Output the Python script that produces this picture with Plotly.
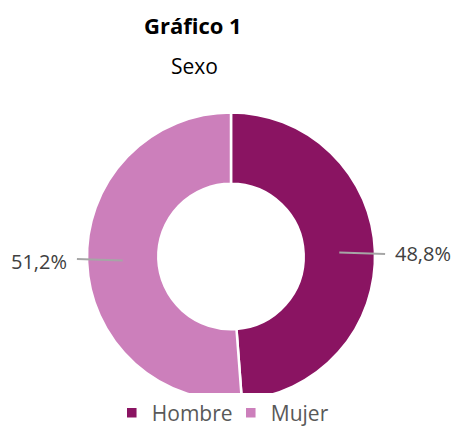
import math
import plotly.graph_objects as go

categories = ["Hombre", "Mujer"]
values = [48.8, 51.2]
label_texts = ["48,8%", "51,2%"]
colors = ["#8A1462", "#CC7FBB"]

W, H = 457, 427
cx, cy, R = 231, 256.5, 144
hole = 0.505

fig = go.Figure(go.Pie(
    labels=categories, values=values, hole=hole, sort=False,
    direction="clockwise", rotation=0,
    marker=dict(colors=colors, line=dict(color="white", width=2.5)),
    textinfo="none", hoverinfo="label+percent",
    domain=dict(x=[(cx - R) / W, (cx + R) / W], y=[1 - (cy + R) / H, 1 - (cy - R) / H]),
))

def px(x):
    return x / W

def py(y):
    return 1 - y / H

annotations = []
shapes = []
total = sum(values)
cum = 0
rmid = R * (1 + hole) / 2
for v, t in zip(values, label_texts):
    mid = (cum + v / 2) / total * 2 * math.pi
    cum += v
    s = math.sin(mid)
    c = math.cos(mid)
    x0 = cx + rmid * s
    y0 = cy - rmid * c
    side = 1 if s >= 0 else -1
    x1 = cx + side * R * 1.07
    x2 = cx + side * R * 1.125
    shapes.append(dict(type="line", xref="paper", yref="paper",
                       x0=px(x0), y0=py(y0), x1=px(x1), y1=py(y0 + 1.5 * side),
                       line=dict(color="#A6A6A6", width=2)))
    annotations.append(dict(text=t, xref="paper", yref="paper", x=px(x2), y=py(y0 + 1),
                            xanchor="left" if side > 0 else "right", yanchor="middle",
                            showarrow=False, font=dict(size=20, color="#404040", family="Open Sans")))

annotations.append(dict(text="<b>Gráfico 1</b>", xref="paper", yref="paper", x=px(193), y=py(25),
                        xanchor="center", yanchor="middle", showarrow=False,
                        font=dict(size=22, color="black", family="Open Sans")))
annotations.append(dict(text="Sexo", xref="paper", yref="paper", x=px(194), y=py(66),
                        xanchor="center", yanchor="middle", showarrow=False,
                        font=dict(size=21, color="black", family="Open Sans")))

fig.update_layout(
    width=W, height=H, margin=dict(l=0, r=0, t=0, b=0, autoexpand=False),
    paper_bgcolor="white", plot_bgcolor="white",
    annotations=annotations, shapes=shapes,
    showlegend=True,
    legend=dict(orientation="h", x=0.505, xanchor="center", y=py(413), yanchor="middle",
                font=dict(size=21, color="#595959", family="Open Sans"),
                itemwidth=30, tracegroupgap=0, entrywidth=74, entrywidthmode="pixels"),
)

fig.write_html("out.html", config={"displayModeBar": False},
               post_script="document.body.style.margin='0px';document.body.style.overflow='hidden';")
